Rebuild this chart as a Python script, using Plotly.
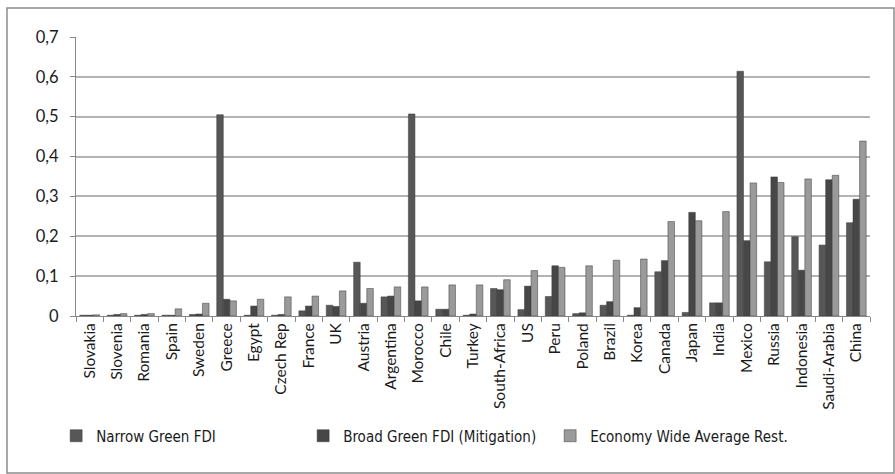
import plotly.graph_objects as go

countries = ["Slovakia", "Slovenia", "Romania", "Spain", "Sweden", "Greece", "Egypt",
             "Czech Rep", "France", "UK", "Austria", "Argentina", "Morocco", "Chile",
             "Turkey", "South-Africa", "US", "Peru", "Poland", "Brazil", "Korea",
             "Canada", "Japan", "India", "Mexico", "Russia", "Indonesia",
             "Saudi-Arabia", "China"]

narrow = [0.002, 0.002, 0.002, 0.002, 0.004, 0.505, 0.002, 0.002, 0.013, 0.027,
          0.135, 0.048, 0.507, 0.017, 0.002, 0.069, 0.016, 0.049, 0.006, 0.027,
          0.002, 0.111, 0.009, 0.033, 0.614, 0.136, 0.199, 0.178, 0.234]

broad = [0.002, 0.004, 0.004, 0.002, 0.005, 0.042, 0.025, 0.004, 0.025, 0.024,
         0.032, 0.050, 0.038, 0.017, 0.005, 0.066, 0.075, 0.126, 0.008, 0.036,
         0.021, 0.139, 0.260, 0.033, 0.189, 0.349, 0.115, 0.342, 0.293]

economy = [0.003, 0.006, 0.006, 0.018, 0.032, 0.038, 0.042, 0.048, 0.050, 0.063,
           0.069, 0.073, 0.073, 0.078, 0.078, 0.091, 0.114, 0.122, 0.126, 0.140,
           0.143, 0.237, 0.239, 0.262, 0.334, 0.335, 0.344, 0.353, 0.439]

series_names = ["Narrow Green FDI", "Broad Green FDI (Mitigation)", "Economy Wide Average Rest."]
colors = ["#575757", "#474747", "#9a9a9a"]

fig = go.Figure()
for name, vals, col in zip(series_names, [narrow, broad, economy], colors):
    fig.add_trace(go.Bar(
        x=countries, y=vals, name=name,
        marker=dict(color=col, line=dict(color="#3a3a3a", width=0.5)),
    ))

font_family = "Lato, 'Open Sans', sans-serif"

fig.update_layout(
    width=895, height=474,
    margin=dict(l=76, r=25, t=37, b=158),
    paper_bgcolor="white", plot_bgcolor="white",
    separators=", ",
    barmode="group", bargap=0.28, bargroupgap=0.0,
    font=dict(family=font_family, size=14, color="#1a1a1a"),
    showlegend=True,
    legend=dict(
        orientation="h", x=-0.025, xanchor="left", y=-0.43, yanchor="middle",
        font=dict(family="'DejaVu Sans Condensed', 'Liberation Sans Narrow', Lato, sans-serif",
                  size=15, color="#1a1a1a"),
        entrywidth=202, itemwidth=30, traceorder="normal",
        bgcolor="rgba(0,0,0,0)",
    ),
    xaxis=dict(
        type="category", tickangle=-90, tickson="boundaries",
        ticks="outside", ticklen=5, tickcolor="#888888",
        showline=True, linecolor="#888888", linewidth=1,
        showgrid=False, tickfont=dict(size=15.5, color="#1a1a1a"), automargin=False,
    ),
    yaxis=dict(
        range=[0, 0.7], dtick=0.1, tick0=0,
        ticks="outside", ticklen=5, tickcolor="#888888",
        showline=True, linecolor="#888888", linewidth=1,
        showgrid=True, gridcolor="#b3b3b3", gridwidth=1.5,
        zeroline=False, tickfont=dict(size=16.5, color="#1a1a1a"), automargin=False,
        ticklabelstandoff=8,
    ),
    shapes=[dict(type="rect", xref="paper", yref="paper",
                 x0=-69/794, x1=(894-76)/794, y0=-(473-316)/279, y1=(316-8)/279,
                 line=dict(color="#8c8c8c", width=1.5), fillcolor="rgba(0,0,0,0)", layer="below")],
)

fig.write_html("out.html")
